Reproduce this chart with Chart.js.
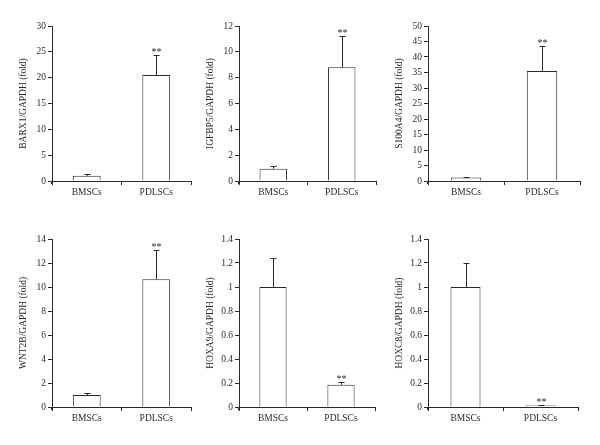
<!DOCTYPE html>
<html>
<head>
    <title>Gene expression BMSCs vs PDLSCs</title>
    <script src="https://cdn.jsdelivr.net/npm/chart.js"></script>
    <style>
        body { margin: 0; background: #fff; }
        #wrap { position: relative; width: 600px; height: 445px; }
        canvas { position: absolute; }
    </style>
</head>
<body>
<div id="wrap"></div>

<script>
// data
const categories = ['BMSCs', 'PDLSCs'];
const genes = ['BARX1', 'IGFBP5', 'S100A4', 'WNT2B', 'HOXA9', 'HOXC8'];
const axisTitles = genes.map(g => g + '/GAPDH (fold)');
const means = [
    [1.0, 20.5],
    [0.95, 8.8],
    [1.1, 35.5],
    [1.0, 10.65],
    [1.0, 0.185],
    [1.0, 0.015]
];
const errors = [
    [0.3, 3.9],
    [0.2, 2.45],
    [0.3, 8.0],
    [0.2, 2.45],
    [0.245, 0.025],
    [0.2, 0.005]
];
const yMax = [30, 12, 50, 14, 1.4, 1.4];
const yStep = [5, 2, 5, 2, 0.2, 0.2];
const stars = [['', '**'], ['', '**'], ['', '**'], ['', '**'], ['', '**'], ['', '**']];

// layout of the panels (axis x, top y, zero y, right end of x axis)
const panels = [
    { ax: 52, top: 26, zero: 181, end: 191 },
    { ax: 239, top: 26, zero: 181, end: 376 },
    { ax: 428, top: 26, zero: 181, end: 580 },
    { ax: 52, top: 239, zero: 407, end: 191 },
    { ax: 239, top: 239, zero: 407, end: 375 },
    { ax: 428, top: 239, zero: 407, end: 578 }
];

const FONT = '"Liberation Serif", "DejaVu Serif", serif';
const INK = '#2a2a2a';
const YW = 56, XH = 30, PADT = 10, PADR = 6;

// upper error bars + significance stars
const errorBars = {
    id: 'errorBars',
    afterDatasetsDraw(chart, args, opts) {
        const ctx = chart.ctx;
        const y = chart.scales.y;
        const meta = chart.getDatasetMeta(0);
        ctx.save();
        ctx.strokeStyle = INK;
        ctx.fillStyle = INK;
        ctx.lineWidth = 1;
        meta.data.forEach((bar, i) => {
            const v = opts.values[i];
            const e = opts.errors[i];
            const x = Math.round(bar.x) + 0.5;
            const yTop = y.getPixelForValue(v);
            const yErr = Math.round(y.getPixelForValue(v + e)) + 0.5;
            ctx.beginPath();
            ctx.moveTo(x, yTop);
            ctx.lineTo(x, yErr);
            ctx.moveTo(x - 3, yErr);
            ctx.lineTo(x + 3, yErr);
            ctx.stroke();
            if (opts.stars[i]) {
                ctx.font = '10px ' + FONT;
                ctx.textAlign = 'center';
                ctx.textBaseline = 'alphabetic';
                ctx.fillText(opts.stars[i], x, yErr - 0.5);
            }
        });
        ctx.restore();
    }
};

// the y axis line runs a little below zero in the original
const axisFoot = {
    id: 'axisFoot',
    afterDraw(chart) {
        const ctx = chart.ctx;
        const a = chart.chartArea;
        ctx.save();
        ctx.strokeStyle = INK;
        ctx.lineWidth = 1;
        ctx.beginPath();
        ctx.moveTo(Math.round(a.left) - 0.5, a.bottom);
        ctx.lineTo(Math.round(a.left) - 0.5, a.bottom + 3);
        ctx.stroke();
        ctx.restore();
    }
};

const wrap = document.getElementById('wrap');

panels.forEach((p, k) => {
    const cv = document.createElement('canvas');
    const w = p.end - p.ax + YW + PADR;
    const h = p.zero - p.top + PADT + XH;
    cv.width = w;
    cv.height = h;
    cv.style.left = (p.ax - YW) + 'px';
    cv.style.top = (p.top - PADT) + 'px';
    cv.style.width = w + 'px';
    cv.style.height = h + 'px';
    wrap.appendChild(cv);

    new Chart(cv.getContext('2d'), {
        type: 'bar',
        data: {
            labels: categories,
            datasets: [{
                data: means[k],
                backgroundColor: '#ffffff',
                borderColor: INK,
                borderWidth: 1,
                categoryPercentage: 1.0,
                barPercentage: 0.4
            }]
        },
        options: {
            responsive: false,
            animation: false,
            devicePixelRatio: 1,
            layout: { padding: { top: PADT, right: PADR, left: 0, bottom: 0 } },
            plugins: {
                legend: { display: false },
                tooltip: { enabled: false },
                errorBars: { values: means[k], errors: errors[k], stars: stars[k] }
            },
            scales: {
                x: {
                    offset: true,
                    afterFit(s) { s.height = XH; },
                    grid: {
                        offset: true,
                        drawOnChartArea: false,
                        drawTicks: true,
                        tickLength: 4,
                        color: INK
                    },
                    border: { color: INK, width: 1 },
                    ticks: { color: INK, padding: 2, font: { family: FONT, size: 9.5 } }
                },
                y: {
                    min: 0,
                    max: yMax[k],
                    afterFit(s) { s.width = YW; },
                    grid: {
                        drawOnChartArea: false,
                        drawTicks: true,
                        tickLength: 4,
                        color: INK
                    },
                    border: { color: INK, width: 1 },
                    ticks: {
                        stepSize: yStep[k],
                        color: INK,
                        padding: 2,
                        font: { family: FONT, size: 9.5 },
                        callback: v => String(Number(v.toFixed(2)))
                    },
                    title: {
                        display: true,
                        text: axisTitles[k],
                        color: INK,
                        padding: { top: 22, bottom: 0 },
                        font: { family: FONT, size: 9.5 }
                    }
                }
            }
        },
        plugins: [errorBars, axisFoot]
    });
});
</script>
</body>
</html>
